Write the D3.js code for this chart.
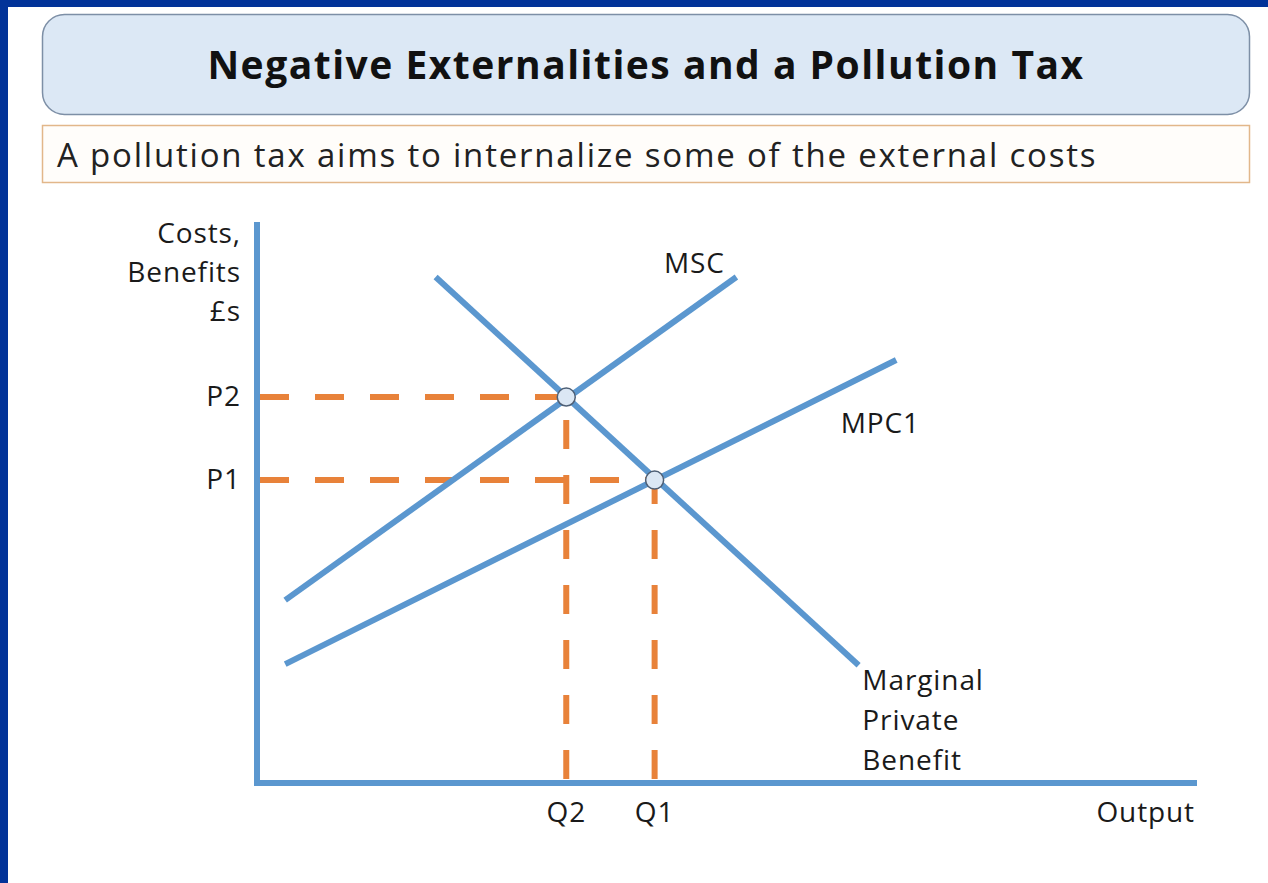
<!DOCTYPE html>
<html>
<head>
<meta charset="utf-8">
<script src="https://cdn.jsdelivr.net/npm/d3@7"></script>
<style>
  html, body { margin: 0; padding: 0; background: #ffffff; }
  svg { display: block; }
  text { font-family: "Open Sans", "Noto Sans", sans-serif; fill: #1a1a1a; }
</style>
</head>
<body>
<svg id="chart"></svg>
<script>
// chart values (output units 0-100, price units 0-100)
const titleText = "Negative Externalities and a Pollution Tax";
const subtitleText = "A pollution tax aims to internalize some of the external costs";
const yAxisLabel = ["Costs,", "Benefits", "£s"];
const xAxisLabel = "Output";

const curveNames = ["MPB", "MSC", "MPC1"];
const curveStart = [[19, 90.2], [3, 32.6], [3, 21.2]];
const curveEnd = [[64, 21], [51, 90.2], [68, 75.4]];

const curveLabels = [
  { text: ["Marginal", "Private", "Benefit"], at: [64.4, 16.6] },
  { text: ["MSC"], at: [43.3, 90.9] },
  { text: ["MPC1"], at: [62.1, 62.4] }
];

const priceNames = ["P2", "P1"];
const priceValues = [68.8, 54.0];
const qtyNames = ["Q2", "Q1"];
const qtyValues = [32.9, 42.3];

const width = 1268, height = 883;
const blue = "#5b97cf", orange = "#e8823a";

const svg = d3.select("#chart").attr("width", width).attr("height", height);

// frame
svg.append("rect").attr("x", 0).attr("y", 0).attr("width", width).attr("height", height).attr("fill", "#ffffff");
svg.append("rect").attr("x", 0).attr("y", 0).attr("width", width).attr("height", 7).attr("fill", "#023399");
svg.append("rect").attr("x", 0).attr("y", 0).attr("width", 8).attr("height", height).attr("fill", "#023399");

// title box
svg.append("rect")
  .attr("x", 42.5).attr("y", 14.5).attr("width", 1207).attr("height", 100)
  .attr("rx", 22).attr("ry", 22)
  .attr("fill", "#dce8f5").attr("stroke", "#7d8fa6").attr("stroke-width", 1.5);
svg.append("text")
  .attr("x", 646).attr("y", 79)
  .attr("text-anchor", "middle")
  .style("font-size", "39px").style("font-weight", "700")
  .style("letter-spacing", "1.5px")
  .style("fill", "#111")
  .text(titleText);

// subtitle box
svg.append("rect")
  .attr("x", 42.5).attr("y", 125.5).attr("width", 1207).attr("height", 57)
  .attr("fill", "#fffdfa").attr("stroke", "#e2b78a").attr("stroke-width", 1.5);
svg.append("text")
  .attr("x", 57).attr("y", 167)
  .style("font-size", "33px")
  .style("letter-spacing", "1.8px")
  .style("fill", "#222")
  .text(subtitleText);

// scales
const x = d3.scaleLinear().domain([0, 100]).range([257, 1197]);
const y = d3.scaleLinear().domain([0, 100]).range([783, 222]);

const g = svg.append("g");

// dashed guides
const dash = "29,26";
priceValues.forEach((p, i) => {
  g.append("line")
    .attr("x1", x(0) + 3).attr("x2", x(qtyValues[i]))
    .attr("y1", y(p)).attr("y2", y(p))
    .attr("stroke", orange).attr("stroke-width", 6)
    .attr("stroke-dasharray", dash);
  g.append("line")
    .attr("x1", x(qtyValues[i])).attr("x2", x(qtyValues[i]))
    .attr("y1", y(0) - 4).attr("y2", y(p))
    .attr("stroke", orange).attr("stroke-width", 6)
    .attr("stroke-dasharray", dash);
});

// axes
g.append("line")
  .attr("x1", x(0)).attr("x2", x(0))
  .attr("y1", y(100)).attr("y2", y(0) + 3)
  .attr("stroke", blue).attr("stroke-width", 6);
g.append("line")
  .attr("x1", x(0) - 3).attr("x2", x(100))
  .attr("y1", y(0)).attr("y2", y(0))
  .attr("stroke", blue).attr("stroke-width", 6);

// curves
const line = d3.line().x((d) => x(d[0])).y((d) => y(d[1]));
curveNames.forEach((name, i) => {
  g.append("path")
    .attr("class", "curve " + name)
    .attr("d", line([curveStart[i], curveEnd[i]]))
    .attr("fill", "none")
    .attr("stroke", blue).attr("stroke-width", 6);
});

// equilibrium markers
qtyValues.forEach((q, i) => {
  g.append("circle")
    .attr("cx", x(q)).attr("cy", y(priceValues[i]))
    .attr("r", 9)
    .attr("fill", "#dbe7f4").attr("stroke", "#4e5f75").attr("stroke-width", 1.5);
});

// labels
const labelSize = "28px";
const labelSpacing = "0.9px";
const yl = g.append("text")
  .attr("text-anchor", "end")
  .style("font-size", labelSize).style("letter-spacing", labelSpacing);
yl.selectAll("tspan").data(yAxisLabel).enter().append("tspan")
  .attr("x", 241)
  .attr("y", (d, i) => 243 + i * 39)
  .text((d) => d);

priceNames.forEach((name, i) => {
  g.append("text")
    .attr("x", 241).attr("y", y(priceValues[i]) + 9)
    .attr("text-anchor", "end")
    .style("font-size", labelSize).style("letter-spacing", labelSpacing)
    .text(name);
});

qtyNames.forEach((name, i) => {
  g.append("text")
    .attr("x", x(qtyValues[i])).attr("y", 822)
    .attr("text-anchor", "middle")
    .style("font-size", labelSize).style("letter-spacing", labelSpacing)
    .text(name);
});

g.append("text")
  .attr("x", 1195).attr("y", 822)
  .attr("text-anchor", "end")
  .style("font-size", labelSize).style("letter-spacing", labelSpacing)
  .text(xAxisLabel);

curveLabels.forEach((c) => {
  const t = g.append("text").style("font-size", labelSize).style("letter-spacing", labelSpacing);
  t.selectAll("tspan").data(c.text).enter().append("tspan")
    .attr("x", x(c.at[0]))
    .attr("y", (d, i) => y(c.at[1]) + i * 40)
    .text((d) => d);
});
</script>
</body>
</html>
